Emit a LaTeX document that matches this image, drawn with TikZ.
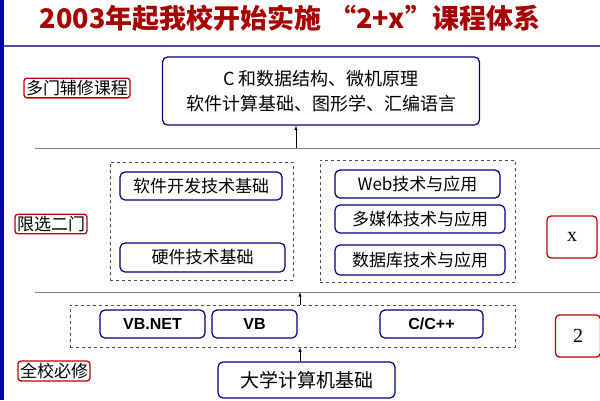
\documentclass[tikz,border=0pt]{standalone}
\usepackage{fontspec}
\setmainfont{Liberation Serif}
\newfontfamily\cjk{Noto Sans CJK SC}
\newfontfamily\sfb{Liberation Sans}
\begin{document}
\begin{tikzpicture}[x=1pt,y=-1pt,
 lbl/.style={draw=red!75!black,line width=1.3pt,rounded corners=3pt,inner sep=2pt,font=\cjk\fontsize{17}{19}\selectfont},
 crs/.style={draw=blue!50!black,line width=1.2pt,rounded corners=5pt,inner sep=1pt,font=\cjk\fontsize{17}{19}\selectfont},
 dbox/.style={draw=black!70,dashed,line width=0.6pt},
 arr/.style={-latex,line width=0.6pt}]
\useasboundingbox (0,0) rectangle (600,400);
\fill[blue!60!black] (0,0) rectangle (4,400);
\node[text=red!65!black,font=\cjk\bfseries\fontsize{27}{30}\selectfont] (t) at (290,18) {2003年起我校开始实施\;“2+x”课程体系};
\draw[gray!60!blue,line width=1.2pt] (4,46) -- (600,46);
\node[lbl] (l1) at (77,88) {多门辅修课程};
\node[crs,minimum width=317pt,minimum height=68pt,align=center,font=\cjk\fontsize{18}{25}\selectfont] (top) at (321,91) {C 和数据结构、微机原理\\软件计算基础、图形学、汇编语言};
\coordinate (h1l) at (35,148); \coordinate (h1r) at (600,148);
\draw[gray,line width=0.7pt] (h1l) -- (h1r);
\coordinate (a1) at (296,148);
\draw[arr] (a1) -- (top.south -| a1);
\node[dbox,minimum width=183pt,minimum height=118pt] (dl) at (201.5,221) {};
\node[dbox,minimum width=195pt,minimum height=122pt] (dr) at (417.5,221) {};
\node[crs,minimum width=162pt,minimum height=28pt] (s1) at (201,186) {软件开发技术基础};
\node[crs,minimum width=165pt,minimum height=29pt] (s2) at (202.5,257.5) {硬件技术基础};
\node[crs,minimum width=165pt,minimum height=28pt] (w1) at (417.5,184) {Web技术与应用};
\node[crs,minimum width=170pt,minimum height=28pt] (w2) at (420,219) {多媒体技术与应用};
\node[crs,minimum width=170pt,minimum height=30pt] (w3) at (420,260) {数据库技术与应用};
\node[lbl] (l2) at (51,224) {限选二门};
\node[draw=red!75!black,line width=1.3pt,rounded corners=4pt,minimum width=50pt,minimum height=42pt,font=\fontsize{20}{22}\selectfont] (x) at (572,237) {x};
\coordinate (h2l) at (35,292); \coordinate (h2r) at (600,292);
\draw[gray,line width=0.7pt] (h2l) -- (h2r);
\node[dbox,minimum width=445pt,minimum height=42pt] (db) at (292.5,326) {};
\coordinate (a2) at (300,292);
\draw[arr] (db.north -| a2) -- (a2);
\node[crs,minimum width=105pt,minimum height=28pt,font=\sfb\bfseries\fontsize{16}{18}\selectfont] (v1) at (152.5,324) {VB.NET};
\node[crs,minimum width=85pt,minimum height=28pt,font=\sfb\bfseries\fontsize{16}{18}\selectfont] (v2) at (254.5,324) {VB};
\node[crs,minimum width=103pt,minimum height=28pt,font=\sfb\bfseries\fontsize{16}{18}\selectfont] (v3) at (431.5,324) {C/C++};
\node[draw=red!75!black,line width=1.3pt,rounded corners=4pt,minimum width=45pt,minimum height=42pt,font=\fontsize{20}{22}\selectfont] (two) at (578,336) {2};
\node[crs,minimum width=177pt,minimum height=36pt,font=\cjk\fontsize{19}{21}\selectfont] (b) at (306.5,380) {大学计算机基础};
\draw[arr] (b.north -| a2) -- (db.south -| a2);
\node[lbl] (l3) at (54,371) {全校必修};
\end{tikzpicture}
\end{document}
